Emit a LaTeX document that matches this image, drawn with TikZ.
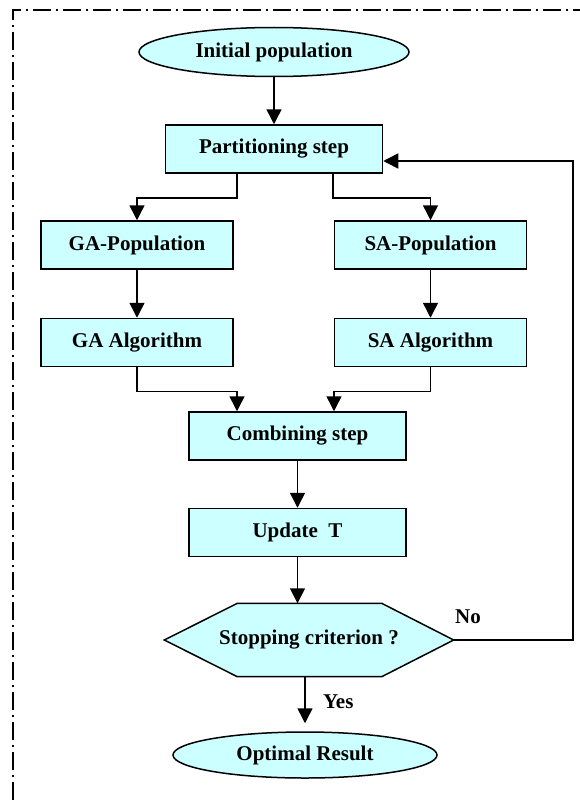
\documentclass[tikz,border=0pt]{standalone}
\usepackage{fontspec}
\setmainfont{Liberation Serif}
\usepackage{tikz}
\usetikzlibrary{shapes.geometric, arrows.meta, positioning, backgrounds}
\usepackage{xcolor}
\definecolor{lightcyan}{RGB}{204,255,255}

\begin{document}
\begin{tikzpicture}[x=1pt, y=-1pt,
    font=\bfseries\fontsize{21}{25}\selectfont,
    >={Triangle[length=15pt,width=15pt]},
    box/.style={rectangle, draw=black, fill=lightcyan, line width=1.5pt,
        minimum width=192pt, minimum height=48pt, inner sep=0pt},
    oval/.style={ellipse, draw=black, fill=lightcyan, line width=1.5pt, inner sep=0pt},
    link/.style={->, line width=1.5pt},
    frameline/.style={line width=1.5pt, dash pattern=on 18pt off 5pt on 2pt off 5pt}]
    \useasboundingbox (0,0) rectangle (580,800);
    % Add the frame
    \draw[frameline] (13,800) -- (13,10) -- (580,10);
    % Add the states
        \node[oval,
              minimum width=270pt,
              minimum height=49pt
              ] (init) at (274,52) {Initial population};
        \node[box,
              below=47pt of init,
              minimum width=217pt
              ] (part) {Partitioning step};
        \node[box
              ] (gapop) at (137,245) {GA-Population};
        \node[box,
              right=100pt of gapop
              ] (sapop) {SA-Population};
        \node[box,
              below=48pt of gapop
              ] (gaalg) {GA Algorithm};
        \node[box,
              below=48pt of sapop
              ] (saalg) {SA Algorithm};
        \node[box,
              minimum width=217pt
              ] (comb) at (297.5,436) {Combining step};
        \node[box,
              below=47pt of comb,
              minimum width=217pt
              ] (update) {Update~~T};
        \node[minimum width=289pt,
              minimum height=73pt,
              inner sep=0pt
              ] (stop) at (309,640) {Stopping criterion ?};
        \node[oval,
              minimum width=264pt,
              minimum height=46pt
              ] (opt) at (305,755) {Optimal Result};
        \coordinate (back) at (573,161);
    % hexagon behind the decision text
    \begin{scope}[on background layer]
        \draw[fill=lightcyan, line width=1.5pt]
            (stop.west) -- ([xshift=73pt]stop.north west) -- ([xshift=-72pt]stop.north east)
            -- (stop.east) -- ([xshift=-72pt]stop.south east) -- ([xshift=73pt]stop.south west)
            -- cycle;
    \end{scope}

       \draw[link] (init) -- (part);
       \draw[link] ([xshift=-37pt]part.south) -- ++(0,24) -| (gapop.north);
       \draw[link] ([xshift=59pt]part.south) -- ++(0,24) -| (sapop.north);
       \draw[link] (gapop) -- (gaalg);
       \draw[link] (sapop) -- (saalg);
       \draw[link] (gaalg.south) -- ++(0,24) -| ([xshift=-60.5pt]comb.north);
       \draw[link] (saalg.south) -- ++(0,24) -| ([xshift=36.5pt]comb.north);
       \draw[link] (comb) -- (update);
       \draw[link] (update.south) -- (update.south |- stop.north);
       \draw[link, shorten >=8pt] (stop.south -| opt.north) -- node[right=14pt, yshift=2pt] {Yes} (opt.north);
       \draw[link] (stop.east) -- node[pos=0.12, above=12pt] {No} (stop.east -| back)
            -- (back) -- (part.east |- back);
    \end{tikzpicture}
\end{document}
